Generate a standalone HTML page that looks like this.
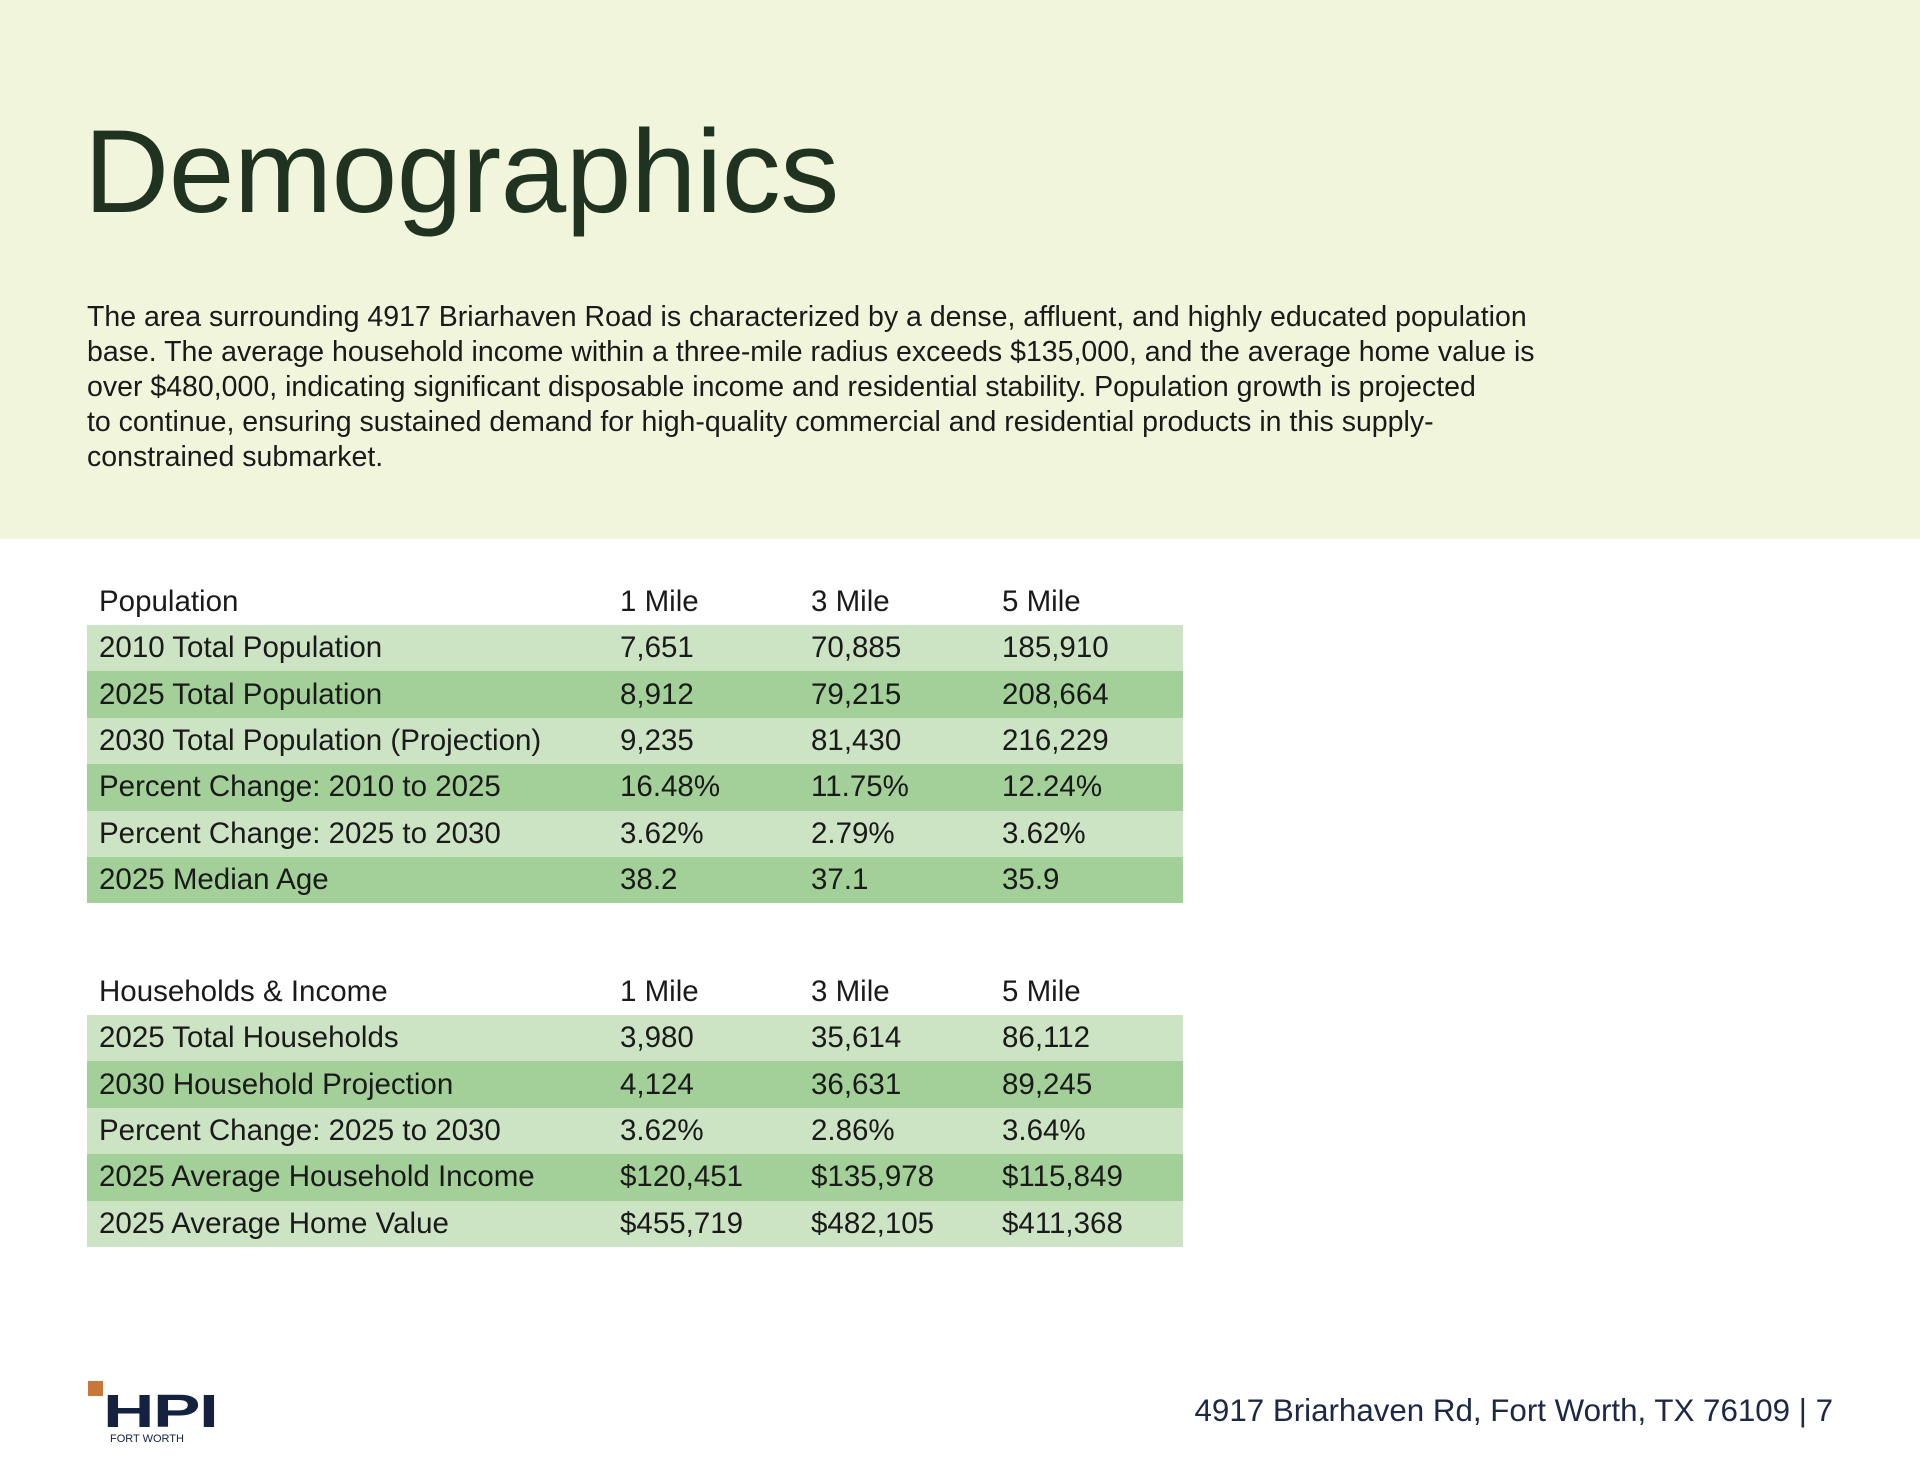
<!DOCTYPE html>
<html><head><meta charset="utf-8"><style>
*{margin:0;padding:0;box-sizing:border-box}
body{width:1920px;height:1484px;background:#fff;font-family:"Liberation Sans",sans-serif;color:#1a1a1a;position:relative;overflow:hidden}
.band{position:absolute;left:0;top:0;width:1920px;height:539px;background:#f0f5dc}
h1{position:absolute;left:84px;top:102px;font-size:118px;font-weight:400;color:#1f3320;letter-spacing:-0.5px;line-height:1.2}
.para{position:absolute;left:87px;top:300px;font-size:28.5px;line-height:35px;color:#1a1a1a;white-space:nowrap}
table{position:absolute;left:87px;width:1096px;border-collapse:collapse;font-size:29.5px}
td{height:46.4px;padding:0;vertical-align:middle}
td:first-child{padding-left:12px;width:533px}
td:nth-child(2){width:191px}td:nth-child(3){width:191px}
tr.h td{height:46px}
tr.l{background:#cce3c4}tr.d{background:#a3cf98}
.foot{position:absolute;right:87px;top:1393px;font-size:31.3px;color:#1d2746}
.sq{position:absolute;left:88px;top:1381px;width:15px;height:15px;background:#c9763a}
.hpi{position:absolute;left:103px;top:1388px;font-size:46px;font-weight:900;color:#14223f;letter-spacing:-1px;line-height:1;transform:scaleX(1.55);transform-origin:left top}
.fw{position:absolute;left:110px;top:1433px;font-size:11px;color:#14223f}
</style></head><body>
<div class="band"></div>
<h1>Demographics</h1>
<p class="para">The area surrounding 4917 Briarhaven Road is characterized by a dense, affluent, and highly educated population<br>base. The average household income within a three-mile radius exceeds $135,000, and the average home value is<br>over $480,000, indicating significant disposable income and residential stability. Population growth is projected<br>to continue, ensuring sustained demand for high-quality commercial and residential products in this supply-<br>constrained submarket.</p>
<table style="top:579px">
<tr class="h"><td>Population</td><td>1 Mile</td><td>3 Mile</td><td>5 Mile</td></tr>
<tr class="l"><td>2010 Total Population</td><td>7,651</td><td>70,885</td><td>185,910</td></tr>
<tr class="d"><td>2025 Total Population</td><td>8,912</td><td>79,215</td><td>208,664</td></tr>
<tr class="l"><td>2030 Total Population (Projection)</td><td>9,235</td><td>81,430</td><td>216,229</td></tr>
<tr class="d"><td>Percent Change: 2010 to 2025</td><td>16.48%</td><td>11.75%</td><td>12.24%</td></tr>
<tr class="l"><td>Percent Change: 2025 to 2030</td><td>3.62%</td><td>2.79%</td><td>3.62%</td></tr>
<tr class="d"><td>2025 Median Age</td><td>38.2</td><td>37.1</td><td>35.9</td></tr>
</table>
<table style="top:969px">
<tr class="h"><td>Households &amp; Income</td><td>1 Mile</td><td>3 Mile</td><td>5 Mile</td></tr>
<tr class="l"><td>2025 Total Households</td><td>3,980</td><td>35,614</td><td>86,112</td></tr>
<tr class="d"><td>2030 Household Projection</td><td>4,124</td><td>36,631</td><td>89,245</td></tr>
<tr class="l"><td>Percent Change: 2025 to 2030</td><td>3.62%</td><td>2.86%</td><td>3.64%</td></tr>
<tr class="d"><td>2025 Average Household Income</td><td>$120,451</td><td>$135,978</td><td>$115,849</td></tr>
<tr class="l"><td>2025 Average Home Value</td><td>$455,719</td><td>$482,105</td><td>$411,368</td></tr>
</table>
<div class="sq"></div>
<div class="hpi">HPI</div>
<div class="fw">FORT WORTH</div>
<div class="foot">4917 Briarhaven Rd, Fort Worth, TX 76109 | 7</div>
</body></html>
